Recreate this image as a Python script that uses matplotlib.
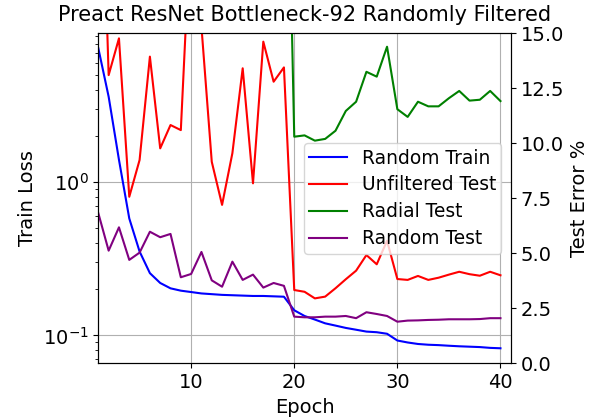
import matplotlib
matplotlib.use("Agg")
import matplotlib.pyplot as plt
import numpy as np

# Values
epochs = np.arange(1, 41)

random_train = [7.47, 3.61, 1.40, 0.58, 0.353, 0.255, 0.22, 0.203, 0.196, 0.192,
                0.188, 0.186, 0.184, 0.183, 0.182, 0.181, 0.181, 0.180, 0.179, 0.146,
                0.134, 0.127, 0.120, 0.116, 0.112, 0.109, 0.106, 0.105, 0.1026, 0.0927,
                0.090, 0.088, 0.087, 0.0865, 0.0857, 0.085, 0.0845, 0.084, 0.083, 0.0825]

unfiltered_test = [28.0, 13.1, 14.77, 7.57, 9.24, 13.94, 9.77, 10.83, 10.6, 20.4,
                   15.3, 9.16, 7.2, 9.55, 13.41, 8.18, 14.62, 12.8, 13.45, 3.33,
                   3.25, 2.95, 3.03, 3.41, 3.82, 4.21, 4.92, 4.5, 5.57, 3.83,
                   3.79, 3.97, 3.79, 3.89, 4.03, 4.16, 4.05, 3.98, 4.16, 4.0]

radial_epochs = np.arange(19, 41)
radial_test = [32.0, 10.3, 10.36, 10.12, 10.2, 10.57, 11.47, 11.89, 13.25, 13.03,
               14.39, 11.55, 11.2, 11.89, 11.68, 11.68, 12.05, 12.38, 11.94, 11.98,
               12.38, 11.92]

random_test = [6.82, 5.12, 6.18, 4.7, 5.03, 5.98, 5.73, 5.88, 3.91, 4.06,
               5.06, 3.77, 3.48, 4.62, 3.79, 4.03, 3.44, 3.65, 3.52, 2.12,
               2.09, 2.09, 2.12, 2.12, 2.15, 2.05, 2.32, 2.24, 2.15, 1.89,
               1.94, 1.95, 1.97, 1.98, 2.0, 2.0, 2.0, 2.01, 2.05, 2.05]

right_ticks = [0.0, 2.5, 5.0, 7.5, 10.0, 12.5, 15.0]

fig = plt.figure(figsize=(5.96, 4.19), dpi=100)
ax = fig.add_axes([0.165, 0.133, 0.692, 0.7875])
ax2 = ax.twinx()

l1, = ax.semilogy(epochs, random_train, color="blue", label="Random Train")
l2, = ax2.plot(epochs, unfiltered_test, color="red", label="Unfiltered Test")
l3, = ax2.plot(radial_epochs, radial_test, color="green", label="Radial Test")
l4, = ax2.plot(epochs, random_test, color="purple", label="Random Test")

ax.set_xlim(1, 41)
ax2.set_ylim(0, 15)
ax2.set_yticks(right_ticks)

ax.grid(True)
ax.set_xlabel("Epoch", fontsize=14)
ax.set_ylabel("Train Loss", fontsize=14)
ax2.set_ylabel("Test Error %", fontsize=14)
# a little extra pad so the title clears the "15.0" tick label
ax.set_title("Preact ResNet Bottleneck-92 Randomly Filtered", fontsize=15, pad=9)
ax.tick_params(axis="both", which="major", labelsize=14)
ax2.tick_params(axis="both", which="major", labelsize=14)

ax2.legend(handles=[l1, l2, l3, l4], loc="center right", fontsize=13.4,
           labelspacing=0.42, borderpad=0.3)

plt.savefig("out.png", dpi=100)
